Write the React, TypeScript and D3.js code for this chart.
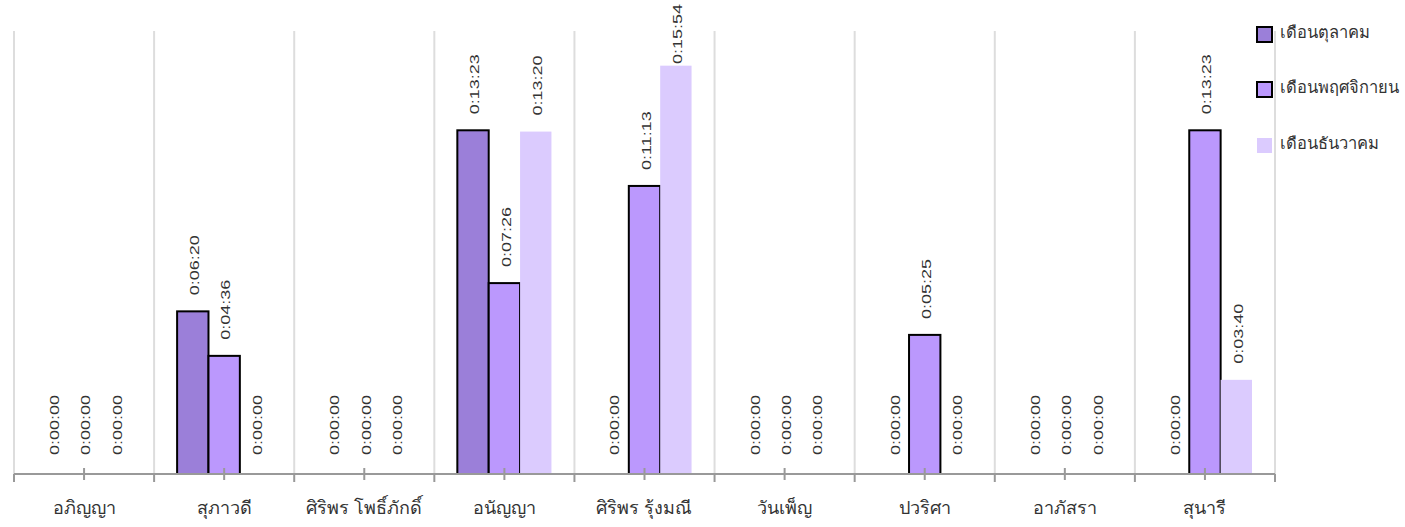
import React from "react";
import * as d3 from "d3";

const categories = [
  "อภิญญา",
  "สุภาวดี",
  "ศิริพร โพธิ์ภักดิ์",
  "อนัญญา",
  "ศิริพร รุ้งมณี",
  "วันเพ็ญ",
  "ปวริศา",
  "อาภัสรา",
  "สุนารี",
];
const seriesNames = ["เดือนตุลาคม", "เดือนพฤศจิกายน", "เดือนธันวาคม"];
// seconds
const octValues = [0, 380, 0, 803, 0, 0, 0, 0, 0];
const novValues = [0, 276, 0, 446, 673, 0, 325, 0, 803];
const decValues = [0, 0, 0, 800, 954, 0, 0, 0, 220];
const seriesValues = [octValues, novValues, decValues];
const colors = ["#9b7fd9", "#bb98fd", "#dbcbfe"];
const stroked = [true, true, false];

function fmt(s: number) {
  const h = Math.floor(s / 3600);
  const m = Math.floor((s % 3600) / 60);
  const sec = s % 60;
  return `${h}:${String(m).padStart(2, "0")}:${String(sec).padStart(2, "0")}`;
}

export default function App() {
  const W = 1405, H = 527;
  const left = 14, right = 1275, base = 474, top = 31;
  const x = d3.scaleBand<string>().domain(categories).range([left, right]).padding(0);
  const bw = x.bandwidth();
  const inner = d3.scaleBand<number>().domain([0, 1, 2]).range([23, bw - 23]).padding(0);
  const y = d3.scaleLinear().domain([0, 1035]).range([base, top]);
  const font = "'Liberation Sans', Arial, 'DejaVu Sans', sans-serif";
  const boundaries = d3.range(categories.length + 1).map((i) => left + i * bw);

  return (
    <svg width={W} height={H} style={{ position: "absolute", left: 0, top: 0 }} fontFamily={font}>
      <rect x={0} y={0} width={W} height={H} fill="#fff" />
      {boundaries.map((bx, i) => (
        <line key={"g" + i} x1={bx} x2={bx} y1={top} y2={base} stroke="#dddddd" strokeWidth={2} />
      ))}
      {categories.map((c, ci) =>
        seriesValues.map((vals, si) => {
          const v = vals[ci];
          const bx = (x(c) as number) + (inner(si) as number);
          const w = inner.bandwidth();
          const cx = bx + w / 2;
          const ty = Math.max(y(v) - (v > 0 ? 16 : 19), 64);
          return (
            <g key={c + si}>
              {v > 0 && (
                <rect
                  x={bx}
                  y={y(v)}
                  width={w}
                  height={base - y(v)}
                  fill={colors[si]}
                  stroke={stroked[si] ? "#000" : "none"}
                  strokeWidth={2}
                />
              )}
              <text
                transform={`translate(${cx + 2},${ty}) rotate(-90) scale(1.5,1)`}
                fontSize={12}
                dominantBaseline="central"
                fill="#333"
              >
                {fmt(v)}
              </text>
            </g>
          );
        })
      )}
      <line x1={left} x2={right} y1={base} y2={base} stroke="#999" strokeWidth={2} />
      {boundaries.map((bx, i) => (
        <line key={"t" + i} x1={bx} x2={bx} y1={base} y2={base + 8} stroke="#999" strokeWidth={2} />
      ))}
      {categories.map((c) => {
        const cx = (x(c) as number) + bw / 2;
        return (
          <g key={"c" + c}>
            <line x1={cx} x2={cx} y1={base - 6} y2={base + 6} stroke="#999" strokeWidth={2} />
            <text x={cx} y={514} textAnchor="middle" fontSize={18} fill="#333">
              {c}
            </text>
          </g>
        );
      })}
      {seriesNames.map((n, i) => {
        const ly = [27, 82, 138][i];
        return (
          <g key={"l" + i}>
            <rect
              x={1257}
              y={ly}
              width={15}
              height={15}
              fill={colors[i]}
              stroke={stroked[i] ? "#000" : "none"}
              strokeWidth={2}
            />
            <text x={1280} y={ly + 11} fontSize={16.5} fill="#333">
              {n}
            </text>
          </g>
        );
      })}
    </svg>
  );
}
